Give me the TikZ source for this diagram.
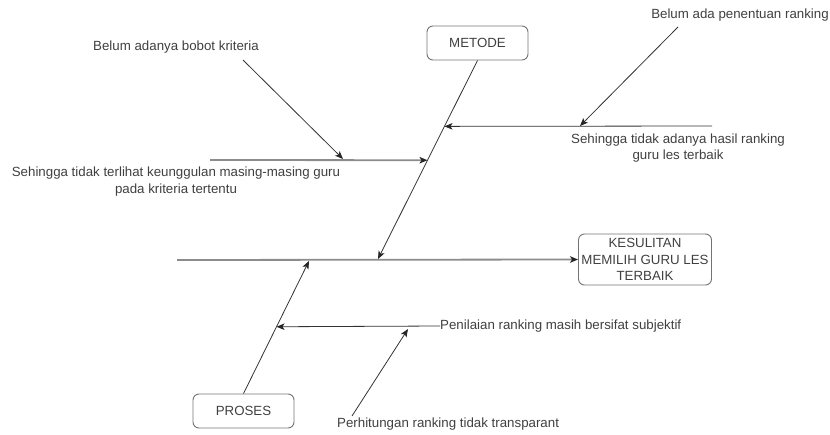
\documentclass[tikz,border=0pt]{standalone}
\usepackage{fontspec}
\setmainfont{Liberation Sans}
\usetikzlibrary{shapes,arrows.meta,positioning,calc}

\begin{document}
\begin{tikzpicture}[x=1pt,y=-1pt,
    font=\fontsize{13.3}{16.8}\selectfont,
    causebox/.style={draw=black!55, rounded corners=6pt, line width=0.9pt, text=black!75,
        align=center, inner sep=0pt, minimum width=101pt, minimum height=34pt},
    effectbox/.style={causebox, minimum width=133pt, minimum height=51pt},
    bone/.style={draw=black!80, line width=0.8pt},
    spine/.style={draw=black!45, line width=1.8pt},
    tip/.style={-{Stealth[length=8pt,width=6.5pt,inset=2pt,black!85]}},
    lbl/.style={text=black!75, align=center, inner sep=0pt}]
    \useasboundingbox (0,0) rectangle (830,434);

    % Head and category boxes
    \node[effectbox] (akibat) at (645,259.5) {KESULITAN\\MEMILIH GURU LES\\TERBAIK};
    \node[causebox] (metode) at (477.5,43) {METODE};
    \node[causebox] (proses) at (243.5,411) {PROSES};

    % Spine
    \coordinate (ekor) at (177,260);
    \draw[spine, tip] (ekor) -- (akibat.west);

    % Main bones
    \coordinate (mjoint) at (378,259);
    \coordinate (pjoint) at (309,261);
    \draw[bone, tip] (metode.south) -- (mjoint);
    \draw[bone, tip] (proses.north) -- (pjoint);

    % METODE, left cause
    \node[lbl] (bobot) at (176,47) {Belum adanya bobot kriteria};
    \node[lbl] (unggul) at (176,181.5) {Sehingga tidak terlihat keunggulan masing-masing guru\\pada kriteria tertentu};
    \coordinate (m1s) at (210,160);
    \coordinate (m1e) at ($(metode.south)!0.5025!(mjoint)$);
    \coordinate (m1a) at (243,60);
    \coordinate (m1b) at (343,159);
    \draw[spine, draw=black!45, tip] (m1s) -- (m1e);
    \draw[bone, tip] (m1a) -- (m1b);

    % METODE, right cause
    \node[lbl] (penentuan) at (740,15) {Belum ada penentuan ranking};
    \node[lbl] (hasil) at (678,148) {Sehingga tidak adanya hasil ranking\\guru les terbaik};
    \coordinate (m2s) at (712,126);
    \coordinate (m2e) at ($(metode.south)!0.332!(mjoint)$);
    \coordinate (m2a) at (678,27);
    \coordinate (m2b) at (580,126);
    \draw[bone, tip] (m2s) -- (m2e);
    \draw[bone, tip] (m2a) -- (m2b);

    % PROSES causes
    \node[lbl, anchor=west] (subjektif) at (440,326) {Penilaian ranking masih bersifat subjektif};
    \node[lbl, anchor=west] (transparan) at (337,424) {Perhitungan ranking tidak transparant};
    \coordinate (p1e) at ($(proses.north)!0.504!(pjoint)$);
    \coordinate (p1a) at (352,416);
    \coordinate (p1b) at (408,329);
    \draw[bone, tip] (subjektif.west) -- (p1e);
    \draw[bone, tip] (p1a) -- (p1b);
\end{tikzpicture}
\end{document}
